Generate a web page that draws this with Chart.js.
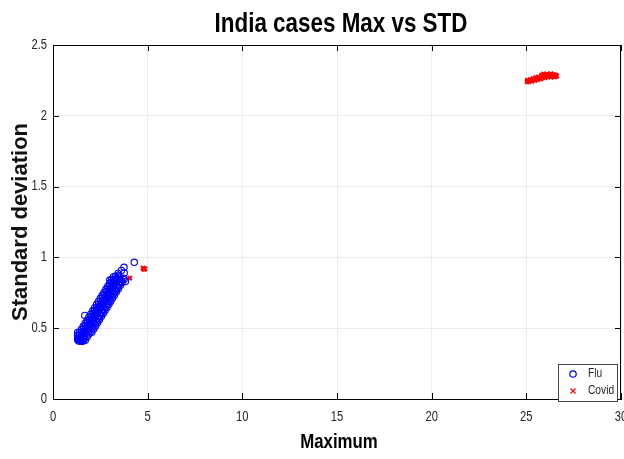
<!DOCTYPE html>
<html>
<head>
<meta charset="utf-8">
<script src="https://cdn.jsdelivr.net/npm/chart.js@4.4.0/dist/chart.umd.min.js"></script>
<style>
  html, body { margin: 0; padding: 0; background: #fff; }
</style>
</head>
<body>
<canvas id="chart" width="624" height="459"></canvas>
<script>
// Flu: maximum vs standard deviation (dense band)
const fluMax = [
  1.50, 1.60, 1.70, 1.80, 1.90, 2.00, 2.10, 2.20, 2.30, 2.40, 2.50, 2.60, 2.70, 2.80, 2.90, 3.00, 3.10, 3.20, 3.30, 3.40, 3.50, 3.60, 3.70,
  1.30, 1.40, 1.50, 1.60, 1.70, 1.80, 1.90, 2.00, 2.10, 2.20, 2.30, 2.40, 2.50, 2.60, 2.70, 2.80, 2.90, 3.00, 3.10, 3.20, 3.30, 3.40, 3.50,
  1.30, 1.40, 1.50, 1.60, 1.70, 1.80, 1.90, 2.00, 2.10, 2.20, 2.30, 2.40, 2.50, 2.60, 2.70, 2.80, 2.90, 3.00, 3.10, 3.20, 3.30,
  1.35, 1.45, 1.55, 1.65, 1.75, 1.85, 1.95, 2.05, 2.15, 2.25, 2.35, 2.45, 2.55, 2.65, 2.75, 2.85, 2.95, 3.05, 3.15, 3.25, 3.35, 3.45, 3.55,
  1.35, 1.45, 1.55, 1.65, 1.75, 1.85, 1.95, 2.05, 2.15, 2.25, 2.35, 2.45, 2.55, 2.65, 2.75, 2.85, 2.95, 3.05, 3.15, 3.25, 3.35, 3.45,
  2.05, 2.15, 2.25, 2.35, 2.45, 2.55, 2.65, 2.75, 2.85, 2.95, 3.05, 3.15, 3.25, 3.35, 3.45, 3.55, 3.65, 3.75,
  1.30, 1.40, 1.50, 1.60, 1.70, 1.80, 1.90, 2.00, 2.10, 2.20, 2.30, 2.40, 2.50, 2.60, 2.70, 2.80, 2.90, 3.00, 3.10, 3.20,
  1.68, 3.00, 3.44, 3.61, 3.75, 3.76, 3.82, 4.29];
const fluStd = [
  0.410, 0.410, 0.415, 0.437, 0.459, 0.481, 0.503, 0.525, 0.547, 0.569, 0.591, 0.612, 0.634, 0.656, 0.678, 0.700, 0.722, 0.744, 0.766, 0.788, 0.810, 0.832, 0.853,
  0.420, 0.420, 0.422, 0.443, 0.465, 0.487, 0.509, 0.531, 0.553, 0.575, 0.597, 0.619, 0.641, 0.662, 0.684, 0.706, 0.728, 0.750, 0.772, 0.794, 0.816, 0.838, 0.860,
  0.450, 0.450, 0.472, 0.493, 0.515, 0.537, 0.559, 0.581, 0.603, 0.625, 0.647, 0.669, 0.691, 0.712, 0.734, 0.756, 0.778, 0.800, 0.822, 0.844, 0.866,
  0.410, 0.410, 0.410, 0.429, 0.451, 0.473, 0.495, 0.517, 0.539, 0.561, 0.583, 0.605, 0.627, 0.648, 0.670, 0.692, 0.714, 0.736, 0.758, 0.780, 0.802, 0.824, 0.846,
  0.430, 0.436, 0.458, 0.479, 0.501, 0.523, 0.545, 0.567, 0.589, 0.611, 0.633, 0.655, 0.677, 0.698, 0.720, 0.742, 0.764, 0.786, 0.808, 0.830, 0.852, 0.874,
  0.472, 0.494, 0.516, 0.538, 0.560, 0.582, 0.603, 0.625, 0.647, 0.669, 0.691, 0.713, 0.735, 0.757, 0.779, 0.801, 0.823, 0.844,
  0.470, 0.470, 0.492, 0.513, 0.535, 0.557, 0.579, 0.601, 0.623, 0.645, 0.667, 0.689, 0.711, 0.732, 0.754, 0.776, 0.798, 0.820, 0.842, 0.864,
  0.590, 0.840, 0.887, 0.908, 0.930, 0.890, 0.830, 0.965];

// Covid: maximum vs standard deviation
const covidMax = [4.05, 4.75, 4.80, 4.85,
  25.05, 25.05, 25.15, 25.20, 25.25, 25.30, 25.35, 25.45, 25.50, 25.55, 25.60, 25.65, 25.75, 25.80, 25.85, 25.90,
  25.95, 26.00, 26.00, 26.10, 26.15, 26.20, 26.25, 26.30, 26.30, 26.40, 26.45, 26.50, 26.55, 26.60];
const covidStd = [0.854, 0.925, 0.915, 0.920,
  2.240, 2.250, 2.243, 2.255, 2.250, 2.245, 2.262, 2.250, 2.270, 2.263, 2.255, 2.275, 2.260, 2.285, 2.268, 2.295,
  2.280, 2.270, 2.288, 2.295, 2.275, 2.290, 2.283, 2.273, 2.296, 2.283, 2.293, 2.275, 2.287, 2.280];

const xTicks = [0, 5, 10, 15, 20, 25, 30];
const xTickLabels = ['0', '5', '10', '15', '20', '25', '30'];
const yTicks = [0, 0.5, 1, 1.5, 2, 2.5];
const yTickLabels = ['0', '0.5', '1', '1.5', '2', '2.5'];

const SANS = "'Liberation Sans', Arial, sans-serif";

// draw text squeezed horizontally (no narrow font installed)
function narrowText(ctx, text, x, y, size, squeeze, weight, align, baseline) {
    ctx.save();
    ctx.translate(x, y);
    ctx.scale(squeeze, 1);
    ctx.font = (weight || '') + ' ' + size + 'px ' + SANS;
    ctx.textAlign = align || 'center';
    ctx.textBaseline = baseline || 'alphabetic';
    ctx.fillStyle = weight ? '#000' : '#262626';
    ctx.fillText(text, 0, 0);
    ctx.restore();
}

// MATLAB-style box, inward ticks, tick labels, titles and the small legend
const boxPlugin = {
    id: 'box',
    afterDraw(chart) {
        const { ctx, chartArea: a, scales: { x, y } } = chart;
        ctx.save();
        ctx.strokeStyle = '#000';
        ctx.lineWidth = 1;
        ctx.beginPath();
        ctx.moveTo(a.left, a.top + 0.5);
        ctx.lineTo(a.right, a.top + 0.5);
        ctx.moveTo(a.right - 0.5, a.top);
        ctx.lineTo(a.right - 0.5, a.bottom);
        xTicks.forEach(v => {
            const px = Math.round(x.getPixelForValue(v)) + 0.5;
            ctx.moveTo(px, a.bottom);
            ctx.lineTo(px, a.bottom - 6);
            ctx.moveTo(px, a.top);
            ctx.lineTo(px, a.top + 6);
        });
        yTicks.forEach(v => {
            const py = Math.round(y.getPixelForValue(v)) + 0.5;
            ctx.moveTo(a.left, py);
            ctx.lineTo(a.left + 6, py);
            ctx.moveTo(a.right, py);
            ctx.lineTo(a.right - 6, py);
        });
        ctx.stroke();

        xTicks.forEach((v, i) => {
            narrowText(ctx, xTickLabels[i], x.getPixelForValue(v), a.bottom + 18, 14, 0.8, '', 'center', 'middle');
        });
        yTicks.forEach((v, i) => {
            narrowText(ctx, yTickLabels[i], a.left - 6, y.getPixelForValue(v), 14, 0.8, '', 'right', 'middle');
        });

        narrowText(ctx, 'India cases Max vs STD', 341, 32, 27, 0.83, 'bold');
        narrowText(ctx, 'Maximum', 339, 448, 21, 0.8, 'bold');

        // legend
        const lx = a.right - 63, ly = a.bottom - 35, lw = 59, lh = 37;
        ctx.fillStyle = '#fff';
        ctx.fillRect(lx, ly, lw, lh);
        ctx.strokeStyle = '#444';
        ctx.strokeRect(lx + 0.5, ly + 0.5, lw, lh);
        ctx.strokeStyle = '#0000ff';
        ctx.lineWidth = 1.2;
        ctx.beginPath();
        ctx.arc(lx + 15, ly + 10, 3.2, 0, Math.PI * 2);
        ctx.stroke();
        ctx.strokeStyle = '#ff0000';
        ctx.beginPath();
        ctx.moveTo(lx + 12.5, ly + 24.5);
        ctx.lineTo(lx + 17.5, ly + 29.5);
        ctx.moveTo(lx + 17.5, ly + 24.5);
        ctx.lineTo(lx + 12.5, ly + 29.5);
        ctx.stroke();
        narrowText(ctx, 'Flu', lx + 30, ly + 10, 12, 0.85, '', 'left', 'middle');
        narrowText(ctx, 'Covid', lx + 30, ly + 27, 12, 0.85, '', 'left', 'middle');
        ctx.restore();
    }
};

new Chart(document.getElementById('chart'), {
    type: 'scatter',
    data: {
        datasets: [
            {
                label: 'Flu',
                data: fluMax.map((v, i) => ({ x: v, y: fluStd[i] })),
                pointStyle: 'circle',
                pointRadius: 3.2,
                borderColor: '#0000ff',
                backgroundColor: 'rgba(0,0,0,0)',
                borderWidth: 1.1
            },
            {
                label: 'Covid',
                data: covidMax.map((v, i) => ({ x: v, y: covidStd[i] })),
                pointStyle: 'crossRot',
                pointRadius: 3,
                borderColor: '#ff0000',
                backgroundColor: '#ff0000',
                borderWidth: 2
            }
        ]
    },
    options: {
        responsive: false,
        animation: false,
        events: [],
        layout: { autoPadding: false, padding: { left: 0, right: 3, top: 45, bottom: 0 } },
        plugins: {
            legend: { display: false },
            tooltip: { enabled: false },
            title: { display: false }
        },
        scales: {
            x: {
                type: 'linear',
                min: 0,
                max: 30,
                afterBuildTicks: s => { s.ticks = xTicks.map(v => ({ value: v })); },
                afterFit: s => { s.height = 60; },
                ticks: { display: false },
                grid: { color: '#ececec', drawTicks: false },
                border: { color: '#000' }
            },
            y: {
                type: 'linear',
                min: 0,
                max: 2.5,
                afterBuildTicks: s => { s.ticks = yTicks.map(v => ({ value: v })); },
                afterFit: s => { s.width = 53; },
                ticks: { display: false },
                grid: { color: '#ececec', drawTicks: false },
                border: { color: '#000' },
                title: {
                    display: true,
                    text: 'Standard deviation',
                    color: '#111',
                    font: { family: SANS, size: 22, weight: 'bold' },
                    padding: { top: 8, bottom: 0 }
                }
            }
        }
    },
    plugins: [boxPlugin]
});
</script>
</body>
</html>
